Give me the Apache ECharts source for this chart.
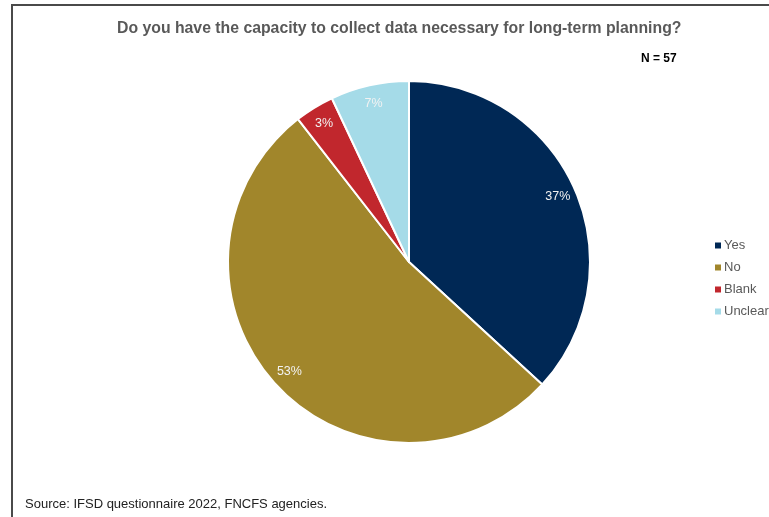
<!DOCTYPE html>
<html>
<head>
<meta charset="utf-8">
<script src="https://cdn.jsdelivr.net/npm/echarts@6/dist/echarts.min.js"></script>
<style>
html,body{margin:0;padding:0;background:#fff;}
#chart{width:769px;height:517px;}
</style>
</head>
<body>
<div id="chart"></div>
<script>
var categories = ['Yes', 'No', 'Blank', 'Unclear'];
var shares = [36.8, 52.6, 3.5, 7.0];
var shareLabels = ['37%', '53%', '3%', '7%'];
var sampleSize = 57;
var colors = ['#002855', '#A1862B', '#C1272D', '#A5DBE8'];

var pieData = categories.map(function (c, i) {
    return { name: c, value: shares[i], itemStyle: { color: colors[i] } };
});

var chart = echarts.init(document.getElementById('chart'));
chart.setOption({
    animation: false,
    title: [{
        text: 'Do you have the capacity to collect data necessary for long-term planning?',
        left: 112,
        top: 16,
        textStyle: { fontFamily: 'Liberation Sans', fontSize: 15.8, fontWeight: 'bold', color: '#595959' }
    }, {
        text: 'N = ' + sampleSize,
        left: 636,
        top: 48,
        textStyle: { fontFamily: 'Liberation Sans', fontSize: 12, fontWeight: 'bold', color: '#000' }
    }, {
        text: 'Source: IFSD questionnaire 2022, FNCFS agencies.',
        left: 20,
        top: 493,
        textStyle: { fontFamily: 'Liberation Sans', fontSize: 13, fontWeight: 'normal', color: '#222' }
    }],
    legend: {
        orient: 'vertical',
        left: 708,
        top: 234,
        itemWidth: 8,
        itemHeight: 8,
        itemGap: 9,
        icon: 'rect',
        data: categories,
        textStyle: { fontFamily: 'Liberation Sans', fontSize: 13, color: '#595959', padding: [0, 0, 0, -3] }
    },
    graphic: [{
        type: 'rect',
        shape: { x: 12, y: 5, width: 800, height: 600 },
        style: { fill: 'none', stroke: '#4a4a4a', lineWidth: 2 },
        silent: true
    }],
    series: [{
        type: 'pie',
        center: [409, 262],
        radius: [0, 181],
        startAngle: 90,
        clockwise: true,
        data: pieData,
        itemStyle: { borderColor: '#fff', borderWidth: 2 },
        label: { show: false },
        labelLine: { show: false }
    }, {
        type: 'pie',
        center: [409, 262],
        radius: [138, 181],
        startAngle: 90,
        clockwise: true,
        silent: true,
        data: pieData.map(function (d) { return { name: d.name, value: d.value }; }),
        itemStyle: { color: 'rgba(0,0,0,0)' },
        label: {
            show: true,
            position: 'inside',
            formatter: function (p) { return shareLabels[p.dataIndex]; },
            fontFamily: 'Liberation Sans',
            fontSize: 12.5,
            color: '#f2f2f2'
        },
        labelLine: { show: false },
        tooltip: { show: false }
    }]
});
</script>
</body>
</html>
